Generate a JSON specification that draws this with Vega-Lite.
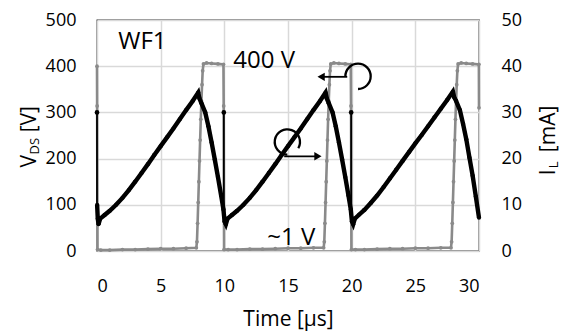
{
  "$schema": "https://vega.github.io/schema/vega-lite/v6.json",
  "width": 382,
  "height": 231,
  "autosize": "none",
  "padding": {"left": 97, "top": 20, "right": 85, "bottom": 81},
  "background": "white",
  "config": {
    "view": {"stroke": "#1a1a1a", "strokeWidth": 1.3},
    "font": "Open Sans",
    "axis": {
      "labelFont": "Open Sans",
      "labelFontSize": 18,
      "labelColor": "black",
      "titleFont": "Open Sans",
      "titleFontSize": 21,
      "titleFontWeight": "normal",
      "titleColor": "black",
      "domain": false,
      "ticks": false,
      "gridColor": "#d9d9d9",
      "gridWidth": 1.5
    }
  },
  "datasets": {
    "vds": [
      {"t": 0, "v": 400}, {"t": 0.01, "v": 314}, {"t": 0.04, "v": 3}, {"t": 0.3, "v": 2}, {"t": 1, "v": 2}, {"t": 2, "v": 3}, {"t": 3, "v": 3}, {"t": 4, "v": 4}, {"t": 5, "v": 5}, {"t": 6, "v": 5}, {"t": 7, "v": 6}, {"t": 7.8, "v": 7},
      {"t": 7.85, "v": 20}, {"t": 7.9, "v": 60}, {"t": 7.95, "v": 105}, {"t": 8.0, "v": 150}, {"t": 8.05, "v": 195}, {"t": 8.1, "v": 240}, {"t": 8.15, "v": 285}, {"t": 8.2, "v": 325}, {"t": 8.25, "v": 360}, {"t": 8.3, "v": 390}, {"t": 8.36, "v": 405},
      {"t": 8.6, "v": 407}, {"t": 9.0, "v": 406}, {"t": 9.5, "v": 405}, {"t": 9.93, "v": 404}, {"t": 9.95, "v": 314}, {"t": 9.98, "v": 3},
      {"t": 10.3, "v": 3}, {"t": 11, "v": 3}, {"t": 12, "v": 4}, {"t": 13, "v": 4}, {"t": 14, "v": 5}, {"t": 15, "v": 6}, {"t": 16, "v": 6}, {"t": 17, "v": 7}, {"t": 17.8, "v": 7},
      {"t": 17.85, "v": 20}, {"t": 17.9, "v": 60}, {"t": 17.95, "v": 105}, {"t": 18.0, "v": 150}, {"t": 18.05, "v": 195}, {"t": 18.1, "v": 240}, {"t": 18.15, "v": 285}, {"t": 18.2, "v": 325}, {"t": 18.25, "v": 360}, {"t": 18.3, "v": 390}, {"t": 18.36, "v": 405},
      {"t": 18.6, "v": 407}, {"t": 19.0, "v": 406}, {"t": 19.5, "v": 405}, {"t": 19.93, "v": 404}, {"t": 19.95, "v": 314}, {"t": 19.98, "v": 3},
      {"t": 20.3, "v": 3}, {"t": 21, "v": 3}, {"t": 22, "v": 4}, {"t": 23, "v": 5}, {"t": 24, "v": 5}, {"t": 25, "v": 6}, {"t": 26, "v": 6}, {"t": 27, "v": 7}, {"t": 27.8, "v": 7},
      {"t": 27.85, "v": 20}, {"t": 27.9, "v": 60}, {"t": 27.95, "v": 105}, {"t": 28.0, "v": 150}, {"t": 28.05, "v": 195}, {"t": 28.1, "v": 240}, {"t": 28.15, "v": 285}, {"t": 28.2, "v": 325}, {"t": 28.25, "v": 360}, {"t": 28.3, "v": 390}, {"t": 28.36, "v": 405},
      {"t": 28.6, "v": 407}, {"t": 29.0, "v": 406}, {"t": 29.5, "v": 405}, {"t": 29.99, "v": 404}, {"t": 30, "v": 310}
    ],
    "il": [
      {"t": 0.01, "i": 10}, {"t": 0.06, "i": 7}, {"t": 0.12, "i": 5.8}, {"t": 0.25, "i": 7.0}, {"t": 0.6, "i": 7.8}, {"t": 1.0, "i": 8.7}, {"t": 1.5, "i": 10.0}, {"t": 2.0, "i": 11.5}, {"t": 2.5, "i": 13.2}, {"t": 3.0, "i": 15.0}, {"t": 3.5, "i": 16.9}, {"t": 4.0, "i": 18.8}, {"t": 4.5, "i": 20.8}, {"t": 5.0, "i": 22.7}, {"t": 5.5, "i": 24.6}, {"t": 6.0, "i": 26.5}, {"t": 6.5, "i": 28.5}, {"t": 7.0, "i": 30.5}, {"t": 7.5, "i": 32.4}, {"t": 7.95, "i": 34.3},
      {"t": 8.05, "i": 33.0}, {"t": 8.2, "i": 32.0}, {"t": 8.5, "i": 30.0}, {"t": 8.75, "i": 27.0}, {"t": 9.0, "i": 23.5}, {"t": 9.25, "i": 19.8}, {"t": 9.5, "i": 16.0}, {"t": 9.75, "i": 12.0}, {"t": 9.93, "i": 9.0}, {"t": 10.02, "i": 6.4}, {"t": 10.12, "i": 5.8}, {"t": 10.25, "i": 7.0},
      {"t": 10.6, "i": 7.8}, {"t": 11.0, "i": 8.7}, {"t": 11.5, "i": 10.0}, {"t": 12.0, "i": 11.5}, {"t": 12.5, "i": 13.2}, {"t": 13.0, "i": 15.0}, {"t": 13.5, "i": 16.9}, {"t": 14.0, "i": 18.8}, {"t": 14.5, "i": 20.8}, {"t": 15.0, "i": 22.7}, {"t": 15.5, "i": 24.6}, {"t": 16.0, "i": 26.5}, {"t": 16.5, "i": 28.5}, {"t": 17.0, "i": 30.5}, {"t": 17.5, "i": 32.4}, {"t": 17.95, "i": 34.3},
      {"t": 18.05, "i": 33.0}, {"t": 18.2, "i": 32.0}, {"t": 18.5, "i": 30.0}, {"t": 18.75, "i": 27.0}, {"t": 19.0, "i": 23.5}, {"t": 19.25, "i": 19.8}, {"t": 19.5, "i": 16.0}, {"t": 19.75, "i": 12.0}, {"t": 19.93, "i": 9.0}, {"t": 20.02, "i": 6.4}, {"t": 20.12, "i": 5.8}, {"t": 20.25, "i": 7.0},
      {"t": 20.6, "i": 7.9}, {"t": 21.0, "i": 8.9}, {"t": 21.5, "i": 10.4}, {"t": 22.0, "i": 12.0}, {"t": 22.5, "i": 13.8}, {"t": 23.0, "i": 15.7}, {"t": 23.5, "i": 17.6}, {"t": 24.0, "i": 19.5}, {"t": 24.5, "i": 21.4}, {"t": 25.0, "i": 23.3}, {"t": 25.5, "i": 25.1}, {"t": 26.0, "i": 27.0}, {"t": 26.5, "i": 28.9}, {"t": 27.0, "i": 30.8}, {"t": 27.5, "i": 32.7}, {"t": 27.95, "i": 34.5},
      {"t": 28.05, "i": 33.3}, {"t": 28.2, "i": 32.5}, {"t": 28.5, "i": 30.5}, {"t": 28.75, "i": 27.5}, {"t": 29.0, "i": 24.2}, {"t": 29.25, "i": 20.2}, {"t": 29.5, "i": 16.3}, {"t": 29.75, "i": 11.8}, {"t": 30.0, "i": 7.2}
    ],
    "spikes": [
      {"t": 0, "i": 30, "i2": 9.5},
      {"t": 9.96, "i": 30, "i2": 6.5},
      {"t": 19.96, "i": 30, "i2": 6.5}
    ],
    "notes": [
      {"t": 1.67, "v": 453, "label": "WF1"},
      {"t": 10.71, "v": 412, "label": "400 V"},
      {"t": 13.37, "v": 29, "label": "~1 V"}
    ],
    "rings": [
      {"t": 20.5, "v": 378, "a0": -1.5708, "a1": 3.1416},
      {"t": 14.95, "v": 236, "a0": 3.1416, "a1": 8.378}
    ],
    "arrows": [
      {"t": 19.65, "t2": 17.6, "v": 377},
      {"t": 14.7, "t2": 17.35, "v": 205}
    ],
    "headsL": [{"t": 17.6, "v": 377}],
    "headsR": [{"t": 17.35, "v": 205}],
    "ltMain": [{"t": -4.8, "v": 181, "label": "V"}, {"t": -4.8, "v": 257, "label": "[V]"}],
    "ltSub": [{"t": -4.52, "v": 209, "label": "DS"}],
    "rtMain": [{"t": 35.95, "i": 16.4, "label": "I"}, {"t": 35.95, "i": 21.4, "label": "[mA]"}],
    "rtSub": [{"t": 36.22, "i": 17.9, "label": "L"}]
  },
  "layer": [
    {
      "layer": [
        {
          "data": {"name": "vds"},
          "mark": {"type": "line", "color": "#8a8a8a", "strokeWidth": 2.6, "point": {"filled": true, "size": 14, "color": "#8a8a8a"}},
          "encoding": {
            "x": {"field": "t", "type": "quantitative", "scale": {"domain": [0, 30], "nice": false},
                  "axis": {"orient": "bottom", "values": [0, 5, 10, 15, 20, 25, 30], "grid": true, "labelPadding": 26, "title": "Time [μs]", "titlePadding": 13}},
            "y": {"field": "v", "type": "quantitative", "scale": {"domain": [0, 500], "nice": false},
                  "axis": {"orient": "left", "values": [0, 100, 200, 300, 400, 500], "grid": true, "labelPadding": 21, "title": null}}
          }
        },
        {
          "data": {"name": "notes"},
          "mark": {"type": "text", "font": "Open Sans", "fontSize": 24, "align": "left", "baseline": "middle", "color": "black"},
          "encoding": {
            "x": {"field": "t", "type": "quantitative"},
            "y": {"field": "v", "type": "quantitative"},
            "text": {"field": "label"}
          }
        },
        {
          "data": {"name": "rings"},
          "mark": {"type": "arc", "color": "black", "innerRadius": 11.5, "outerRadius": 13.8},
          "encoding": {
            "x": {"field": "t", "type": "quantitative"},
            "y": {"field": "v", "type": "quantitative"},
            "theta": {"field": "a0", "type": "quantitative", "scale": null},
            "theta2": {"field": "a1"}
          }
        },
        {
          "data": {"name": "arrows"},
          "mark": {"type": "rule", "color": "black", "strokeWidth": 1.8},
          "encoding": {
            "x": {"field": "t", "type": "quantitative"},
            "x2": {"field": "t2"},
            "y": {"field": "v", "type": "quantitative"}
          }
        },
        {
          "data": {"name": "headsL"},
          "mark": {"type": "point", "shape": "triangle-left", "filled": true, "color": "black", "size": 70, "opacity": 1},
          "encoding": {
            "x": {"field": "t", "type": "quantitative"},
            "y": {"field": "v", "type": "quantitative"}
          }
        },
        {
          "data": {"name": "headsR"},
          "mark": {"type": "point", "shape": "triangle-right", "filled": true, "color": "black", "size": 70, "opacity": 1},
          "encoding": {
            "x": {"field": "t", "type": "quantitative"},
            "y": {"field": "v", "type": "quantitative"}
          }
        },
        {
          "data": {"name": "ltMain"},
          "mark": {"type": "text", "font": "Open Sans", "fontSize": 21, "angle": 270, "align": "left", "baseline": "alphabetic", "color": "black"},
          "encoding": {
            "x": {"field": "t", "type": "quantitative"},
            "y": {"field": "v", "type": "quantitative"},
            "text": {"field": "label"}
          }
        },
        {
          "data": {"name": "ltSub"},
          "mark": {"type": "text", "font": "Open Sans", "fontSize": 13, "angle": 270, "align": "left", "baseline": "alphabetic", "color": "black"},
          "encoding": {
            "x": {"field": "t", "type": "quantitative"},
            "y": {"field": "v", "type": "quantitative"},
            "text": {"field": "label"}
          }
        }
      ]
    },
    {
      "layer": [
        {
          "data": {"name": "il"},
          "mark": {"type": "line", "color": "black", "strokeWidth": 4.4, "point": {"filled": true, "size": 18, "color": "black"}},
          "encoding": {
            "x": {"field": "t", "type": "quantitative", "scale": {"domain": [0, 30], "nice": false}},
            "y": {"field": "i", "type": "quantitative", "scale": {"domain": [0, 50], "nice": false},
                  "axis": {"orient": "right", "values": [0, 10, 20, 30, 40, 50], "grid": false, "labelPadding": 22, "title": null}}
          }
        },
        {
          "data": {"name": "spikes"},
          "mark": {"type": "rule", "color": "black", "strokeWidth": 1.8},
          "encoding": {
            "x": {"field": "t", "type": "quantitative"},
            "y": {"field": "i", "type": "quantitative"},
            "y2": {"field": "i2"}
          }
        },
        {
          "data": {"name": "spikes"},
          "mark": {"type": "point", "filled": true, "color": "black", "size": 22, "opacity": 1},
          "encoding": {
            "x": {"field": "t", "type": "quantitative"},
            "y": {"field": "i", "type": "quantitative"}
          }
        },
        {
          "data": {"name": "rtMain"},
          "mark": {"type": "text", "font": "Open Sans", "fontSize": 21, "angle": 270, "align": "left", "baseline": "alphabetic", "color": "black"},
          "encoding": {
            "x": {"field": "t", "type": "quantitative"},
            "y": {"field": "i", "type": "quantitative"},
            "text": {"field": "label"}
          }
        },
        {
          "data": {"name": "rtSub"},
          "mark": {"type": "text", "font": "Open Sans", "fontSize": 13, "angle": 270, "align": "left", "baseline": "alphabetic", "color": "black"},
          "encoding": {
            "x": {"field": "t", "type": "quantitative"},
            "y": {"field": "i", "type": "quantitative"},
            "text": {"field": "label"}
          }
        }
      ]
    }
  ],
  "resolve": {"scale": {"y": "independent"}, "axis": {"y": "independent"}}
}
